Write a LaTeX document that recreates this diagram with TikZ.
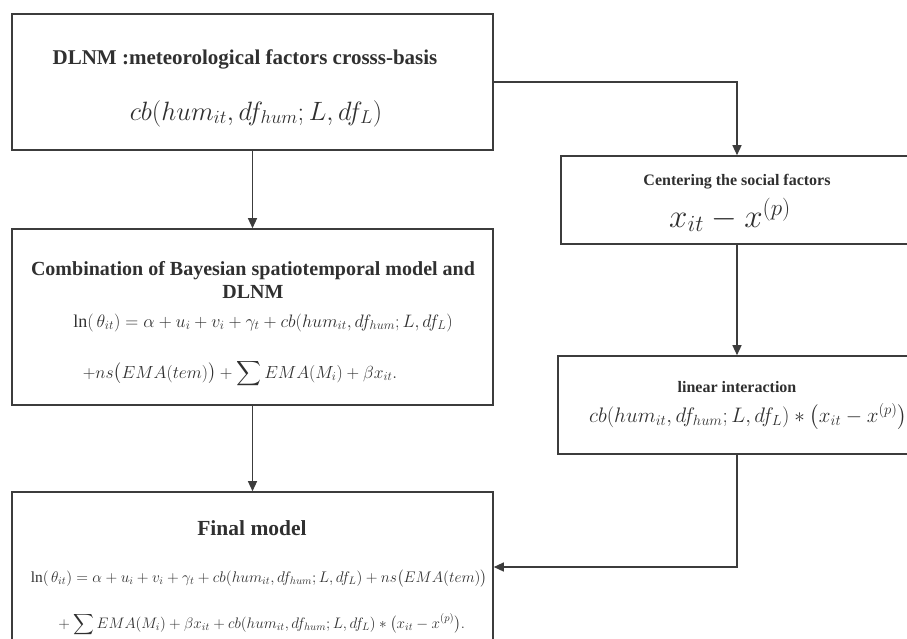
\RequirePackage{fix-cm}
\documentclass[tikz,border=0pt]{standalone}
\usepackage{fontspec}
\setmainfont{Liberation Serif}
\usepackage{amsmath}
\usetikzlibrary{arrows.meta}

\definecolor{linea}{HTML}{3C3C3C}
\definecolor{texto}{HTML}{303030}

\newcommand{\tam}[1]{\fontsize{#1}{#1}\selectfont}

\tikzset{
  caja/.style={draw=linea, line width=1.6pt, rectangle, inner sep=0pt},
  flecha/.style={draw=linea, line width=1.3pt, -{Triangle[length=10pt,width=9pt]}},
  titulo/.style={anchor=base, text=texto, font=\bfseries, inner sep=0pt},
  formula/.style={anchor=base, text=texto, inner sep=0pt},
}

\begin{document}
\begin{tikzpicture}[x=1pt,y=-1pt]
		\useasboundingbox (0,0) rectangle (907,638);
		\clip (0,0) rectangle (907,638);
		
		% Cajas
		\node[caja, minimum width=481pt, minimum height=136pt] (dlnm) at (252.5,82) {};
		\node[caja, minimum width=481pt, minimum height=176pt] (comb) at (252.5,317) {};
		\node[caja, minimum width=481pt, minimum height=150pt] (final) at (252.5,567) {};
		\node[caja, minimum width=352pt, minimum height=88pt] (centro) at (737,200) {};
		\node[caja, minimum width=358pt, minimum height=98pt] (lineal) at (737,405) {};
		
		% Caja 1: cross-basis
		\node[titulo] (t-dlnm) at (245,64) {\tam{21}DLNM :meteorological factors crosss-basis};
		\node[formula] (f-dlnm) at (256,120) {\tam{26.5}$cb(hum_{it},df_{hum};L,df_L)$};
		
		% Caja 2: modelo combinado
		\node[titulo] (t-comb1) at (253,275) {\tam{20}Combination of Bayesian spatiotemporal model and};
		\node[titulo] (t-comb2) at (253,298) {\tam{20}DLNM};
		\node[formula] (f-comb1) at (263,327) {\tam{18}$\ln(\,\theta_{it})=\alpha+u_i+v_i+\gamma_t+cb(hum_{it},df_{hum};L,df_L)$};
		\node[formula] (f-comb2) at (240,378) {\tam{17.5}$\displaystyle +ns\big(EMA(tem)\big)+\sum EMA(M_i)+\beta x_{it}.$};
		
		% Caja 3: modelo final
		\node[titulo] (t-final) at (252,535) {\tam{21.5}Final model};
		\node[formula] (f-final1) at (259,582) {\tam{15.4}$\ln(\,\theta_{it})=\alpha+u_i+v_i+\gamma_t+cb(hum_{it},df_{hum};L,df_L)+ns\big(EMA(tem)\big)$};
		\node[formula] (f-final2) at (260,628) {\tam{15.2}$\displaystyle {}+\sum EMA(M_i)+\beta x_{it}+cb(hum_{it},df_{hum};L,df_L)*\big(x_{it}-x^{(p)}\big).$};
		
		% Caja 4: centrado
		\node[titulo] (t-centro) at (737,185) {\tam{16}Centering the social factors};
		\node[formula] (f-centro) at (730,227) {\tam{33}$x_{it}-x^{(p)}$};
		
		% Caja 5: interaccion lineal
		\node[titulo] (t-lineal) at (737,392) {\tam{16}linear interaction};
		\node[formula, anchor=base west] (f-lineal) at (589,422) {\tam{21}$cb(hum_{it},df_{hum};L,df_L)*\big(x_{it}-x^{(p)}\big)$};
		
		% Flechas
		\draw[flecha] (dlnm) -- (comb);
		\draw[flecha] (comb) -- (final);
		\draw[flecha] (dlnm.east) -| (centro.north);
		\draw[flecha] (centro) -- (lineal);
		\draw[flecha] (lineal.south) |- (final.east);
	\end{tikzpicture}
\end{document}
